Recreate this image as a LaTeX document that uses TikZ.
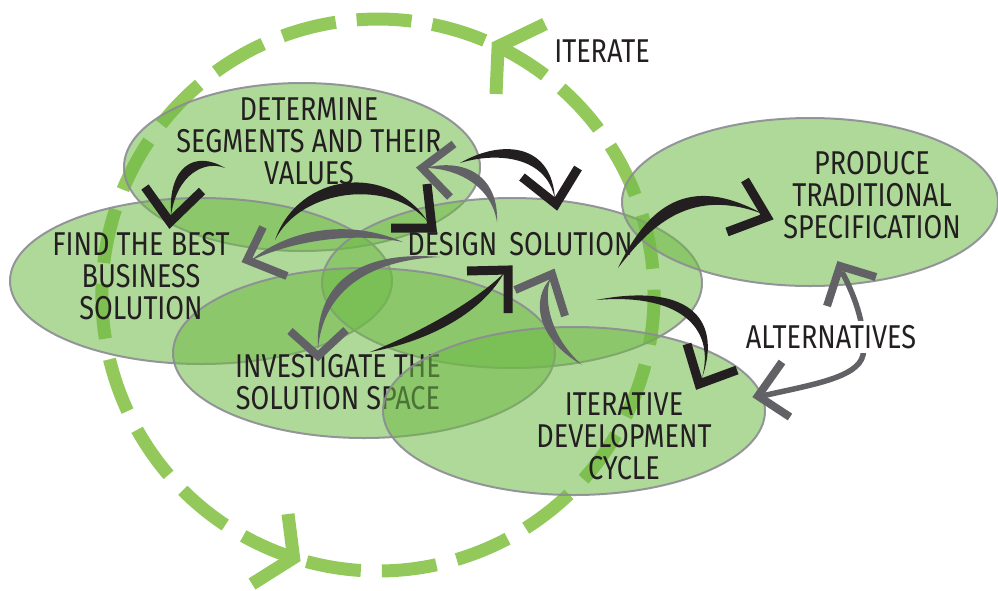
\documentclass[tikz,border=0pt]{standalone}
\usepackage{fontspec}
\newfontfamily\hand[FakeStretch=0.82]{Fira Sans}
\usetikzlibrary{calc,shapes.geometric}
\definecolor{blk}{RGB}{35,31,32}
\definecolor{gry}{RGB}{98,98,102}
\definecolor{dashgreen}{RGB}{147,201,91}
\definecolor{ellfill}{RGB}{110,185,70}
\definecolor{ellline}{RGB}{140,140,148}
\newcommand{\brush}[6]{\fill[#1] (#2) .. controls ($(#3)+(#6)$) and ($(#4)+(#6)$) .. (#5) .. controls ($(#4)-(#6)$) and ($(#3)-(#6)$) .. (#2) -- cycle;}
\begin{document}
\begin{tikzpicture}[x=1pt,y=-1pt,
  bubble/.style={ellipse, draw=ellline, line width=2pt, fill=ellfill, fill opacity=0.55, draw opacity=0.9, inner sep=0pt},
  txt/.style={font=\hand\fontsize{33}{32}\selectfont, text=blk, align=center, inner sep=0pt},
  headB/.style={draw=blk, line width=9pt, line join=miter, line cap=butt},
  headG/.style={draw=gry, line width=8pt, line join=miter, line cap=butt},
  ring/.style={draw=dashgreen, line width=13pt, line cap=butt},
  ringhead/.style={draw=dashgreen, line width=13pt, line join=miter, line cap=butt},
]
\useasboundingbox (0,0) rectangle (998,590);

% ---- iterate ring ----
\coordinate (ringc) at (378,295);
\coordinate (rbot) at (293.6,557.8);
\coordinate (rtop) at (498.1,46.5);
\draw[ring, dash pattern=on 55pt off 21pt] (rbot) arc[start angle=-252.2, end angle=-64.2, radius=276];
\draw[ring, dash pattern=on 55pt off 21pt] (rtop) arc[start angle=-64.2, end angle=107.8, radius=276];
\coordinate (rta1) at (545,24);
\coordinate (rta2) at (496,94);
\draw[ringhead] (rta1) -- (rtop) -- (rta2);
\coordinate (rba1) at (288,514);
\coordinate (rba2) at (252,584);
\draw[ringhead] (rba1) -- (rbot) -- (rba2);

% ---- ellipses ----
\node[bubble, minimum width=356pt, minimum height=168pt] (determine) at (302,167) {};
\node[bubble, minimum width=382pt, minimum height=166pt] (find) at (201,281) {};
\node[bubble, minimum width=380pt, minimum height=170pt] (design) at (512,283) {};
\node[bubble, minimum width=382pt, minimum height=170pt] (investigate) at (364,353) {};
\node[bubble, minimum width=376pt, minimum height=168pt] (produce) at (810,202) {};
\node[txt] (tinv) at (338,382) {INVESTIGATE THE\\SOLUTION SPACE};
\node[bubble, minimum width=382pt, minimum height=168pt] (iterative) at (574,411) {};

% ---- texts ----
\node[txt] (tdet) at (309,141) {DETERMINE\\SEGMENTS AND THEIR\\VALUES};
\node[txt] (tfind) at (141,276) {FIND THE BEST\\BUSINESS\\SOLUTION};
\node[txt] (tdes) at (520,244) {DESIGN\hspace{12pt}SOLUTION};
\node[txt] (tit) at (624,436) {ITERATIVE\\DEVELOPMENT\\CYCLE};
\node[txt] (tpro) at (872,195) {PRODUCE\\TRADITIONAL\\SPECIFICATION};
\node[txt] (titer) at (602,51) {ITERATE};

% ---- black arrows ----
% determine -> find
\coordinate (a1t) at (225,168); \coordinate (a1h) at (171,216);
\brush{blk}{a1t}{200,155}{172,170}{a1h}{4.3,4.8}
\draw[headB] (145,187) -- (170,222) -- (202,191);
% find -> design (big arc)
\coordinate (a2t) at (275,240); \coordinate (a2h) at (428,222);
\brush{blk}{a2t}{300,180}{390,170}{a2h}{1,8}
\draw[headB] (427,184) -- (432,228) -- (391,228);
% determine -> design (top)
\coordinate (a3t) at (460,163); \coordinate (a3h) at (555,200);
\brush{blk}{a3t}{500,145}{550,150}{a3h}{-2.4,6.4}
\draw[headB] (522,177) -- (556,204) -- (578,168);
% investigate -> design
\coordinate (a4t) at (370,352); \coordinate (a4h) at (504,273);
\brush{blk}{a4t}{430,335}{480,305}{a4h}{3.2,5.4}
\draw[headB] (508,313) -- (508,270) -- (467,271);
% design -> produce
\coordinate (a5t) at (618,268); \coordinate (a5h) at (763,214);
\brush{blk}{a5t}{650,215}{690,180}{a5h}{2.7,7.5}
\draw[headB] (745,180) -- (767,217) -- (727,232);
% design -> iterative
\coordinate (a6t) at (596,300); \coordinate (a6h) at (702,378);
\brush{blk}{a6t}{680,288}{720,320}{a6h}{-3.8,5.1}
\draw[headB] (687,344) -- (699,384) -- (737,370);

% ---- grey arrows ----
% design -> determine
\coordinate (g1t) at (497,222); \coordinate (g1h) at (425,168);
\brush{gry}{g1t}{495,180}{460,163}{g1h}{3.8,-5.1}
\draw[headG] (454,144) -- (422,168) -- (450,197);
% design -> find
\coordinate (g2t) at (403,242); \coordinate (g2h) at (250,261);
\brush{gry}{g2t}{350,225}{290,235}{g2h}{0.8,6.4}
\draw[headG] (263,227) -- (247,260) -- (287,276);
% design -> investigate
\coordinate (g3t) at (440,257); \coordinate (g3h) at (318,350);
\brush{gry}{g3t}{360,255}{318,290}{g3h}{3.8,5.1}
\draw[headG] (290,331) -- (318,356) -- (346,330);
% iterative -> design
\coordinate (g4t) at (582,365); \coordinate (g4h) at (551,278);
\brush{gry}{g4t}{540,335}{538,295}{g4h}{6,-2.1}
\draw[headG] (515,290) -- (552,274) -- (565,316);
% alternatives (double)
\coordinate (g5a) at (842,272); \coordinate (g5m) at (863,355); \coordinate (g5b) at (762,396);
\draw[gry, line width=5.5pt] (g5a) .. controls (857,300) and (866,330) .. (g5m) .. controls (858,378) and (810,385) .. (g5b);
\draw[headG] (827,306) -- (840,266) -- (876,277);
\draw[headG] (782,362) -- (758,396) -- (790,417);
\node[txt, fill=white, inner sep=4pt] (talt) at (831,337) {ALTERNATIVES};
\end{tikzpicture}
\end{document}
